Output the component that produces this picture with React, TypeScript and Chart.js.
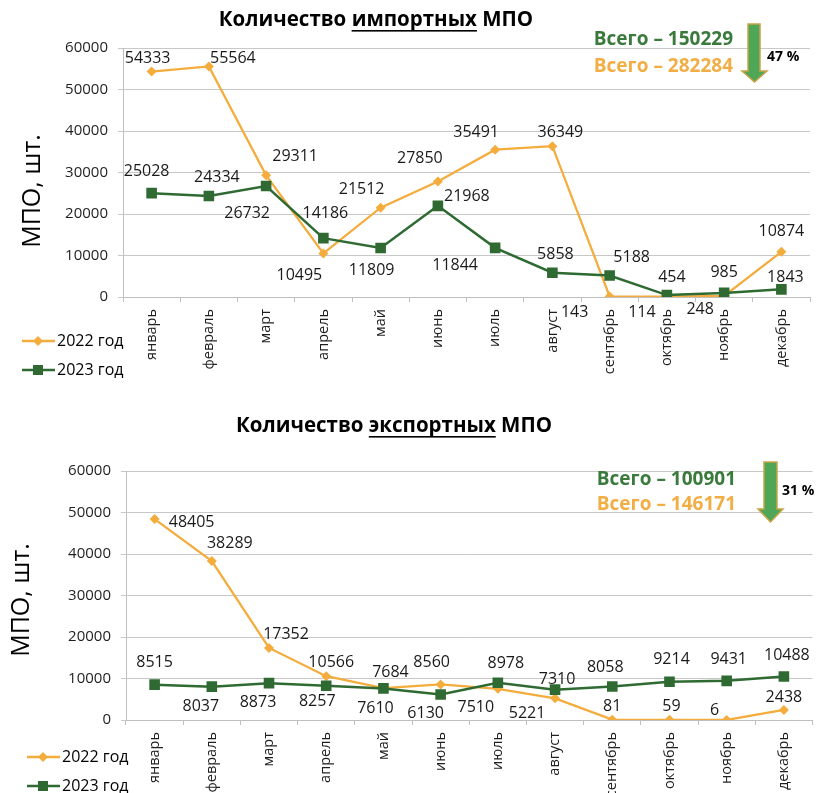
import React, { useEffect, useRef } from 'react';
import { Chart, registerables } from 'chart.js';
Chart.register(...registerables);

const FONT = '"Open Sans", "Liberation Sans", sans-serif';

const months = ['январь', 'февраль', 'март', 'апрель', 'май', 'июнь', 'июль', 'август', 'сентябрь', 'октябрь', 'ноябрь', 'декабрь'];
const seriesNames = ['2022 год', '2023 год'];
const import2022 = [54333, 55564, 29311, 10495, 21512, 27850, 35491, 36349, 143, 114, 248, 10874];
const import2023 = [25028, 24334, 26732, 14186, 11809, 21968, 11844, 5858, 5188, 454, 985, 1843];
const export2022 = [48405, 38289, 17352, 10566, 7684, 8560, 7510, 5221, 81, 59, 6, 2438];
const export2023 = [8515, 8037, 8873, 8257, 7610, 6130, 8978, 7310, 8058, 9214, 9431, 10488];
const yMin = 0;
const yMax = 60000;
const yStep = 10000;
const yAxisTitle = 'МПО, шт.';
const importTitle = ['Количество ', 'импортных', ' МПО'];
const exportTitle = ['Количество ', 'экспортных', ' МПО'];

// data label offsets (dx, dy) relative to each point
const impOff2022 = [[-4, -13], [24, -8], [29, -19], [-24, 22], [-19, -18], [-18, -23], [-19, -17], [8, -14], [-35, 16], [-25, 16], [-24, 13], [0, -20]];
const impOff2023 = [[-5, -22], [8, -19], [-19, 27], [2, -25], [-9, 22], [29, -9], [-40, 18], [3, -18], [22, -18], [5, -18], [0, -20], [4, -12]];
const expOff2022 = [[37, 3], [18, -18], [17, -14], [5, -14], [7, -16], [-9, -22], [-22, 19], [-28, 15], [0, -13], [2, -13], [-12, -10], [0, -12]];
const expOff2023 = [[0, -22], [-11, 20], [-11, 19], [-9, 16], [-8, 20], [-15, 19], [8, -19], [2, -10], [-7, -19], [2, -22], [2, -21], [3, -21]];

const ORANGE = '#F4AC3C';
const GREEN = '#2E6A31';
const GREEN_TXT = '#3A7A3C';
const ORANGE_TXT = '#F2AE45';

const sum = (a: number[]) => a.reduce((s, v) => s + v, 0);

type PanelProps = {
  top: number;
  height: number;
  area: { top: number; bottom: number; left: number; right: number };
  titleParts: string[];
  titleX: number;
  titleY: number;
  yTitleX: number;
  yTitleY: number;
  legendX: number;
  legendY: number[];
  annot: { textRight: number; textY: number[]; arrow: { x1: number; x2: number; top: number; headY: number; hx1: number; hx2: number; tip: number }; pctX: number; pctY: number };
  d2022: number[];
  d2023: number[];
  off2022: number[][];
  off2023: number[][];
};

function Panel(p: PanelProps) {
  const ref = useRef<HTMLCanvasElement | null>(null);
  useEffect(() => {
    if (!ref.current) return;
    const W = 820;
    const H = p.height;
    const t2022 = sum(p.d2022);
    const t2023 = sum(p.d2023);
    const pct = Math.round((1 - t2023 / t2022) * 100);

    const plugin = {
      id: 'custom',
      afterDatasetsDraw(chart: any) {
        const ctx = chart.ctx;
        ctx.save();
        ctx.font = `16px ${FONT}`;
        ctx.fillStyle = '#1a1a1a';
        ctx.textAlign = 'center';
        ctx.textBaseline = 'middle';
        chart.data.datasets.forEach((ds: any, di: number) => {
          const meta = chart.getDatasetMeta(di);
          const offs = di === 0 ? p.off2022 : p.off2023;
          meta.data.forEach((pt: any, i: number) => {
            ctx.fillText(String(ds.data[i]), pt.x + offs[i][0], pt.y + offs[i][1]);
          });
        });
        ctx.restore();
      },
      afterDraw(chart: any) {
        const ctx = chart.ctx;
        ctx.save();
        // title
        ctx.font = `bold 20.5px ${FONT}`;
        ctx.fillStyle = '#000';
        ctx.textBaseline = 'middle';
        ctx.textAlign = 'left';
        const widths = p.titleParts.map((s) => ctx.measureText(s).width);
        const total = widths.reduce((a, b) => a + b, 0);
        let x = p.titleX - total / 2;
        p.titleParts.forEach((s, i) => {
          ctx.fillText(s, x, p.titleY);
          if (i === 1) {
            ctx.fillRect(x, p.titleY + 10, widths[i], 1.6);
          }
          x += widths[i];
        });
        // y title
        ctx.save();
        ctx.translate(p.yTitleX, p.yTitleY);
        ctx.rotate(-Math.PI / 2);
        ctx.font = `25px ${FONT}`;
        ctx.textAlign = 'center';
        ctx.fillText(yAxisTitle, 0, 0);
        ctx.restore();
        // legend
        const colors = [ORANGE, GREEN];
        seriesNames.forEach((name, i) => {
          const y = p.legendY[i];
          ctx.strokeStyle = colors[i];
          ctx.fillStyle = colors[i];
          ctx.lineWidth = 2.5;
          ctx.beginPath();
          ctx.moveTo(p.legendX, y);
          ctx.lineTo(p.legendX + 33, y);
          ctx.stroke();
          const cx = p.legendX + 16;
          ctx.beginPath();
          if (i === 0) {
            ctx.moveTo(cx, y - 5);
            ctx.lineTo(cx + 5, y);
            ctx.lineTo(cx, y + 5);
            ctx.lineTo(cx - 5, y);
            ctx.closePath();
          } else {
            ctx.rect(cx - 5, y - 5, 10, 10);
          }
          ctx.fill();
          ctx.fillStyle = '#000';
          ctx.font = `16px ${FONT}`;
          ctx.textAlign = 'left';
          ctx.fillText(name, p.legendX + 35, y);
        });
        // annotation texts
        const a = p.annot;
        ctx.font = `bold 19px ${FONT}`;
        ctx.textAlign = 'right';
        ctx.fillStyle = GREEN_TXT;
        ctx.fillText(`Всего – ${t2023}`, a.textRight, a.textY[0]);
        ctx.fillStyle = ORANGE_TXT;
        ctx.fillText(`Всего – ${t2022}`, a.textRight, a.textY[1]);
        // arrow
        const ar = a.arrow;
        const mid = (ar.hx1 + ar.hx2) / 2;
        ctx.beginPath();
        ctx.moveTo(ar.x1, ar.top);
        ctx.lineTo(ar.x2, ar.top);
        ctx.lineTo(ar.x2, ar.headY);
        ctx.lineTo(ar.hx2, ar.headY);
        ctx.lineTo(mid, ar.tip);
        ctx.lineTo(ar.hx1, ar.headY);
        ctx.lineTo(ar.x1, ar.headY);
        ctx.closePath();
        ctx.fillStyle = '#4FA656';
        ctx.fill();
        ctx.strokeStyle = '#C9A447';
        ctx.lineWidth = 1.5;
        ctx.stroke();
        ctx.font = `bold 14px ${FONT}`;
        ctx.textAlign = 'left';
        ctx.fillStyle = '#000';
        ctx.fillText(`${pct} %`, a.pctX, a.pctY);
        ctx.restore();
      },
    };

    const chart = new Chart(ref.current, {
      type: 'line',
      data: {
        labels: months,
        datasets: [
          {
            label: seriesNames[0],
            data: p.d2022,
            borderColor: ORANGE,
            backgroundColor: ORANGE,
            pointStyle: 'rectRot',
            pointRadius: 5,
            pointBorderWidth: 0,
            borderWidth: 2.25,
            order: 1,
          },
          {
            label: seriesNames[1],
            data: p.d2023,
            borderColor: GREEN,
            backgroundColor: GREEN,
            pointStyle: 'rect',
            pointRadius: 7.5,
            pointBorderWidth: 0,
            borderWidth: 2.5,
            order: 0,
          },
        ],
      },
      options: {
        responsive: false,
        animation: false,
        devicePixelRatio: 1,
        layout: { padding: { top: p.area.top, right: W - p.area.right, left: 0, bottom: 0 } },
        plugins: { legend: { display: false }, tooltip: { enabled: false }, title: { display: false } },
        scales: {
          x: {
            type: 'category',
            offset: true,
            afterFit: (s: any) => { s.height = H - p.area.bottom; },
            grid: { display: true, drawOnChartArea: false, offset: true, tickLength: 5, color: '#bfbfbf' },
            border: { color: '#bfbfbf' },
            ticks: { autoSkip: false, minRotation: 90, maxRotation: 90, padding: 7, color: '#1f1f1f', font: { family: FONT, size: 14.5 } },
          },
          y: {
            min: yMin,
            max: yMax,
            afterFit: (s: any) => { s.width = p.area.left; },
            ticks: { stepSize: yStep, padding: 10, color: '#1f1f1f', font: { family: FONT, size: 15 }, callback: (v: any) => String(v) },
            grid: { color: '#c8c8c8', tickLength: 5 },
            border: { color: '#bfbfbf' },
          },
        },
      },
      plugins: [plugin],
    } as any);
    return () => chart.destroy();
  }, []);
  return (
    <canvas
      ref={ref}
      width={820}
      height={p.height}
      style={{ position: 'absolute', left: 0, top: p.top, width: 820, height: p.height, display: 'block' }}
    />
  );
}

export default function App() {
  return (
    <div style={{ position: 'absolute', left: 0, top: 0, width: 820, height: 793, overflow: 'hidden', background: '#fff' }}>
      <Panel
        top={0}
        height={395}
        area={{ top: 48, bottom: 297, left: 123, right: 810 }}
        titleParts={importTitle}
        titleX={376}
        titleY={20}
        yTitleX={33}
        yTitleY={191}
        legendX={22}
        legendY={[341, 370]}
        annot={{ textRight: 733, textY: [40, 67], arrow: { x1: 748, x2: 760, top: 24, headY: 71, hx1: 742, hx2: 767, tip: 82 }, pctX: 767, pctY: 57 }}
        d2022={import2022}
        d2023={import2023}
        off2022={impOff2022}
        off2023={impOff2023}
      />
      <Panel
        top={395}
        height={398}
        area={{ top: 76, bottom: 325, left: 126, right: 820 }}
        titleParts={exportTitle}
        titleX={394}
        titleY={31}
        yTitleX={22}
        yTitleY={205}
        legendX={27}
        legendY={[362, 391]}
        annot={{ textRight: 736, textY: [85, 110], arrow: { x1: 764, x2: 777, top: 67, headY: 114, hx1: 758, hx2: 783, tip: 127 }, pctX: 782, pctY: 96 }}
        d2022={export2022}
        d2023={export2023}
        off2022={expOff2022}
        off2023={expOff2023}
      />
    </div>
  );
}
